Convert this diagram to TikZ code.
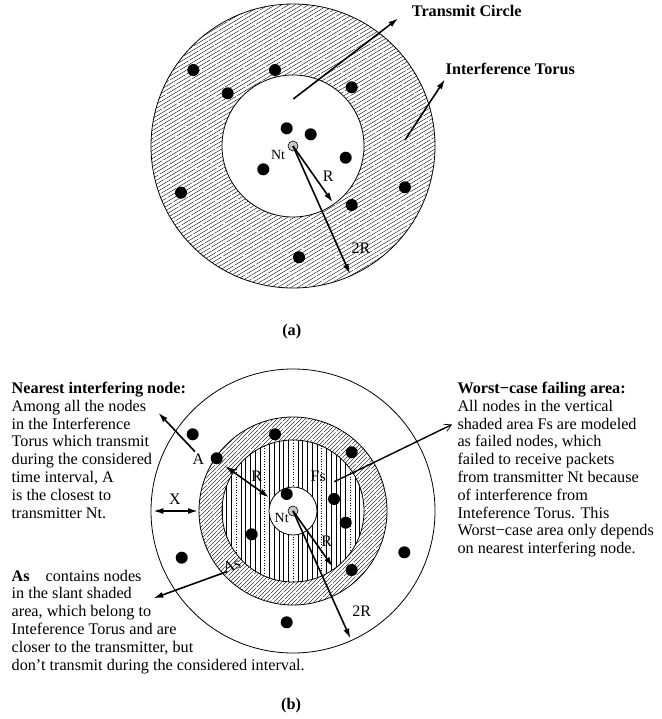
\documentclass[tikz,border=0pt]{standalone}
\usepackage{fontspec}
\setmainfont{Liberation Serif}
\usetikzlibrary{arrows.meta}
\newcommand\txtsize{\fontsize{16.2}{17.8}\selectfont}
\newcommand\lblsize{\fontsize{16}{18}\selectfont}
\newcommand\ntsize{\fontsize{14}{16}\selectfont}
\newcommand\mylines[1]{\begin{tabular}[t]{@{}l@{}}#1\end{tabular}}
\begin{document}
\begin{tikzpicture}[x=1pt,y=-1pt,
  dot/.style={circle,fill=black,inner sep=0pt,minimum size=12pt},
  ntnode/.style={circle,draw=black,fill=black!22,line width=0.6pt,inner sep=0pt,minimum size=10pt},
  ring/.style={draw=black,line width=0.8pt},
  arr/.style={line width=1.6pt,-{Latex[length=10pt,width=6pt]}},
  darr/.style={line width=1.6pt,{Latex[length=10pt,width=6pt]}-{Latex[length=10pt,width=6pt]}},
  thinarr/.style={line width=1.4pt,-{Straight Barb[length=7pt,width=8pt,line width=0.7pt]}},
  hatch/.style={line width=0.35pt,dash pattern=on 28pt off 1.5pt},
  lbl/.style={font=\lblsize,inner sep=0pt},
  ntlbl/.style={font=\ntsize,inner sep=0pt},
  txt/.style={font=\txtsize,inner sep=0pt,anchor=base west},
  boldlbl/.style={font=\txtsize\bfseries,inner sep=0pt}
]
\useasboundingbox (0,0) rectangle (661,719);

% ================= (a) =================
\coordinate (ca) at (293,146);
\begin{scope}
  \clip (ca) circle (142);
  \foreach \a [count=\k] in {0,4,...,470} {
    \pgfmathsetmacro\ph{mod(\k*11.3,29.5)}
    \draw[hatch,dash phase=\ph pt] (150,\a) -- (440,\a-174);
  }
\end{scope}
\fill[white] (ca) circle (71);
\draw[ring] (ca) circle (142);
\draw[ring] (ca) circle (71);

\foreach \p/\n in {(193.3,70)/a1,(275,70)/a2,(227.7,93.3)/a3,(351.7,87.3)/a4,(286.7,128.3)/a5,(310.7,134.3)/a6,(345.7,157.7)/a7,(263.3,169.3)/a8,(181,192.7)/a9,(405,187.3)/a10,(351.7,205)/a11,(299,257.3)/a12}
  \node[dot] (\n) at \p {};
\node[ntnode] (nta) at (ca) {};
\node[ntlbl] (ntalbl) at (278,155) {Nt};

\coordinate (tcs) at (293.3,99);
\coordinate (tce) at (398.3,18.3);
\draw[arr] (tcs) -- (tce);
\node[boldlbl,anchor=base west] (tclbl) at (411.7,16.5) {Transmit Circle};
\coordinate (its) at (405,140);
\coordinate (ite) at (445,79.3);
\draw[arr] (its) -- (ite);
\node[boldlbl,anchor=base west] (itlbl) at (445.5,74.8) {Interference Torus};

\coordinate (rae) at (332.7,202.3);
\coordinate (r2ae) at (350,274);
\draw[arr] (nta.center) -- (rae);
\draw[arr] (nta.center) -- (r2ae);
\node[lbl] (ralbl) at (328.3,176.7) {R};
\node[lbl] (r2albl) at (361,248.3) {2R};

\node[boldlbl] (capa) at (291.7,331.7) {(a)};

% ================= (b) =================
\coordinate (cb) at (293,511);
\begin{scope}
  \clip (cb) circle (94);
  \foreach \a [count=\k] in {410,414,...,820} {
    \pgfmathsetmacro\ph{mod(\k*13.7,29.5)}
    \draw[hatch,dash phase=\ph pt] (190,\a) -- (400,\a-210);
  }
\end{scope}
\fill[white] (cb) circle (71);
\begin{scope}
  \clip (cb) circle (71);
  \foreach \i in {0,...,30} {
    \pgfmathtruncatemacro\m{mod(\i,6)}
    \ifnum\m=3
      \draw[line width=0.6pt,dotted] (222+4.75*\i,430) -- (222+4.75*\i,590);
    \else
      \draw[line width=0.6pt] (222+4.75*\i,430) -- (222+4.75*\i,590);
    \fi
  }
\end{scope}
\fill[white] (cb) circle (24);
\draw[ring] (cb) circle (142);
\draw[ring] (cb) circle (94);
\draw[ring] (cb) circle (71);
\draw[ring] (cb) circle (24);

\foreach \p/\n in {(192.7,434.3)/b1,(275,434.3)/b2,(216.7,458.3)/bA,(351.7,452.3)/b4,(286.7,494)/b5,(334,499)/b6,(345.7,522.7)/b7,(251.7,534.3)/b8,(181.7,557.7)/b9,(404.3,552.3)/b10,(351.7,570)/b11,(286.7,622.3)/b12}
  \node[dot] (\n) at \p {};
\node[ntnode] (ntb) at (cb) {};
\node[ntlbl] (ntblbl) at (281.7,518.3) {Nt};

% arrows
\coordinate (as1) at (195,451.7);
\coordinate (ae1) at (158.3,412.7);
\draw[arr] (as1) -- (ae1);
\coordinate (rs) at (225,466);
\coordinate (re) at (269,497.3);
\draw[darr] (rs) -- (re);
\coordinate (xs) at (153.3,511);
\coordinate (xe) at (198,511);
\draw[darr] (xs) -- (xe);
\coordinate (fs1) at (334.3,481.7);
\coordinate (fe1) at (452,424.5);
\draw[thinarr] (fs1) -- (fe1);
\coordinate (rbe) at (332.7,566.7);
\coordinate (r2be) at (350.5,638.5);
\draw[arr] (ntb.center) -- (rbe);
\draw[arr] (ntb.center) -- (r2be);
\coordinate (ass) at (226.7,571.7);
\coordinate (ase) at (153.3,598.3);
\draw[arr] (ass) -- (ase);

\node[lbl] (albl) at (198.3,459.3) {A};
\node[lbl] (rblbl1) at (256.7,476.7) {R};
\node[lbl] (xlbl) at (175,499.3) {X};
\node[lbl] (fslbl) at (318.3,476.7) {Fs};
\node[lbl] (rblbl2) at (326.7,541.7) {R};
\node[lbl] (r2blbl) at (361.7,610.7) {2R};
\node[lbl,rotate=20] (aslbl) at (231.7,565.7) {As};

% text blocks
\node[txt] (lefttxt) at (11.5,393.5) {\mylines{\textbf{Nearest interfering node:}\\Among all the nodes\\in the Interference\\Torus which transmit\\during the considered\\time interval, A\\is the closest to\\transmitter Nt.}};
\node[txt] (righttxt) at (457.3,393.5) {\mylines{\textbf{Worst−case failing area:}\\All nodes in the vertical\\shaded area Fs are modeled\\as failed nodes, which\\failed to receive packets\\from transmitter Nt because\\of interference from\\Inteference Torus. This\\Worst−case area only depends\\on nearest interfering node.}};
\node[txt] (bottxt) at (11.5,581) {\mylines{\textbf{As}\hspace{16pt}contains nodes\\in the slant shaded\\area, which belong to\\Inteference Torus and are\\closer to the transmitter, but\\don’t transmit during the considered interval.}};

\node[boldlbl] (capb) at (291,706) {(b)};
\end{tikzpicture}
\end{document}
